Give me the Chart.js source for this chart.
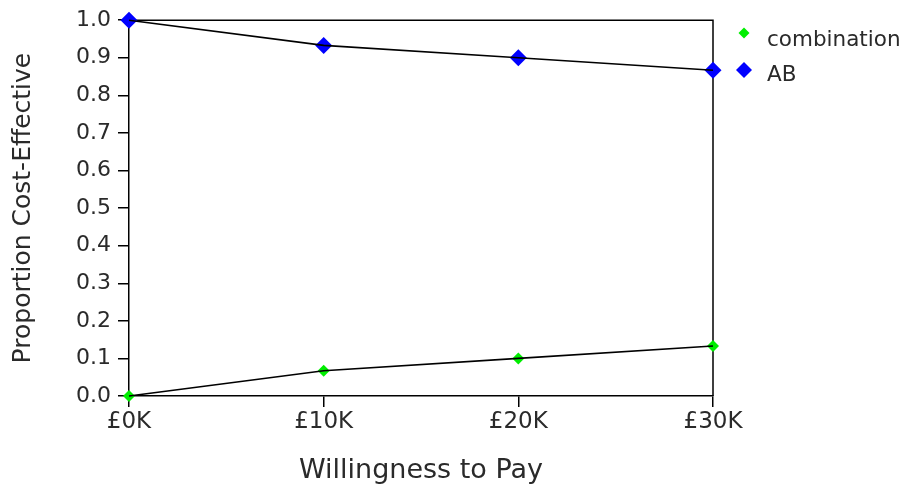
<!DOCTYPE html>
<html><head><meta charset="utf-8">
<script src="https://cdn.jsdelivr.net/npm/chart.js@4/dist/chart.umd.min.js"></script>
<style>html,body{margin:0;padding:0;background:#fff;overflow:hidden}canvas{display:block}</style>
</head><body>
<canvas id="c" width="908" height="487"></canvas>
<script>
// ---- data ----
const wtpValues = [0, 10000, 20000, 30000];
const xTickLabels = ['£0K', '£10K', '£20K', '£30K'];
const combinationValues = [0.0, 0.067, 0.10, 0.133];
const abValues = [1.0, 0.933, 0.90, 0.867];
const seriesNames = ['combination', 'AB'];
const seriesColors = ['#00ee00', '#0000ff'];
const yTitle = 'Proportion Cost-Effective';
const xTitle = 'Willingness to Pay';

const FONT = '"DejaVu Sans", Verdana, sans-serif';
const TXT = '#2a2a2a';
const toXY = vals => vals.map((v, i) => ({x: wtpValues[i], y: v}));

const framePlugin = {
  id: 'frame',
  beforeDatasetsDraw(chart) {
    const {ctx, chartArea: a} = chart;
    ctx.save();
    ctx.strokeStyle = '#000';
    ctx.lineWidth = 1.5;
    ctx.beginPath();
    ctx.moveTo(a.left, a.top);
    ctx.lineTo(a.right, a.top);
    ctx.lineTo(a.right, a.bottom);
    ctx.stroke();
    ctx.restore();
  }
};

const legendPlugin = {
  id: 'sideLegend',
  afterDraw(chart) {
    const {ctx} = chart;
    const items = [
      {name: seriesNames[0], color: seriesColors[0], r: 5.5, cy: 33, base: 46},
      {name: seriesNames[1], color: seriesColors[1], r: 8, cy: 70, base: 81}
    ];
    ctx.save();
    items.forEach(it => {
      ctx.fillStyle = it.color;
      ctx.beginPath();
      ctx.moveTo(744, it.cy - it.r);
      ctx.lineTo(744 + it.r, it.cy);
      ctx.lineTo(744, it.cy + it.r);
      ctx.lineTo(744 - it.r, it.cy);
      ctx.closePath();
      ctx.fill();
      ctx.fillStyle = TXT;
      ctx.font = '21.5px ' + FONT;
      ctx.textBaseline = 'alphabetic';
      ctx.textAlign = 'left';
      ctx.fillText(it.name, 767, it.base);
    });
    ctx.restore();
  }
};

new Chart(document.getElementById('c'), {
  type: 'scatter',
  data: {
    datasets: [
      {label: seriesNames[0], data: toXY(combinationValues), showLine: false, pointStyle: 'rectRot',
       pointRadius: 6, pointHoverRadius: 6, pointBackgroundColor: seriesColors[0], pointBorderWidth: 0, order: 2, clip: false},
      {label: seriesNames[1], data: toXY(abValues), showLine: false, pointStyle: 'rectRot',
       pointRadius: 8.5, pointHoverRadius: 8.5, pointBackgroundColor: seriesColors[1], pointBorderWidth: 0, order: 2, clip: false},
      {label: seriesNames[0] + ' line', data: toXY(combinationValues), showLine: true, borderColor: '#000',
       borderWidth: 1.6, pointRadius: 0, pointHoverRadius: 0, tension: 0, order: 1, clip: false},
      {label: seriesNames[1] + ' line', data: toXY(abValues), showLine: true, borderColor: '#000',
       borderWidth: 1.6, pointRadius: 0, pointHoverRadius: 0, tension: 0, order: 1, clip: false}
    ]
  },
  options: {
    responsive: false,
    animation: false,
    events: [],
    layout: {padding: {top: 20, right: 195, bottom: 0, left: 4}},
    plugins: {legend: {display: false}, tooltip: {enabled: false}, title: {display: false}},
    scales: {
      x: {
        type: 'linear', min: 0, max: 30000,
        afterBuildTicks: s => { s.ticks = wtpValues.map(v => ({value: v})); },
        afterFit: s => { s.height = 487 - 396; },
        ticks: {
          callback: (v, i) => xTickLabels[i],
          font: {family: FONT, size: 23}, color: TXT, padding: 1, maxRotation: 0, autoSkip: false
        },
        grid: {drawOnChartArea: false, drawTicks: true, tickLength: 11, color: '#000', lineWidth: 1.5},
        border: {display: true, color: '#000', width: 1.5},
        title: {display: true, text: xTitle, font: {family: FONT, size: 27}, color: TXT, padding: {top: 0, bottom: 0}}
      },
      y: {
        type: 'linear', min: 0, max: 1,
        afterFit: s => { s.width = 129 - 4; },
        ticks: {
          stepSize: 0.1, callback: v => Number(v).toFixed(1),
          font: {family: FONT, size: 22}, color: TXT, padding: 7
        },
        grid: {drawOnChartArea: false, drawTicks: true, tickLength: 11, color: '#000', lineWidth: 1.5},
        border: {display: true, color: '#000', width: 1.5},
        title: {display: true, text: yTitle, font: {family: FONT, size: 25}, color: TXT, padding: {top: 4, bottom: 4}}
      }
    }
  },
  plugins: [framePlugin, legendPlugin]
});
</script>
</body></html>
